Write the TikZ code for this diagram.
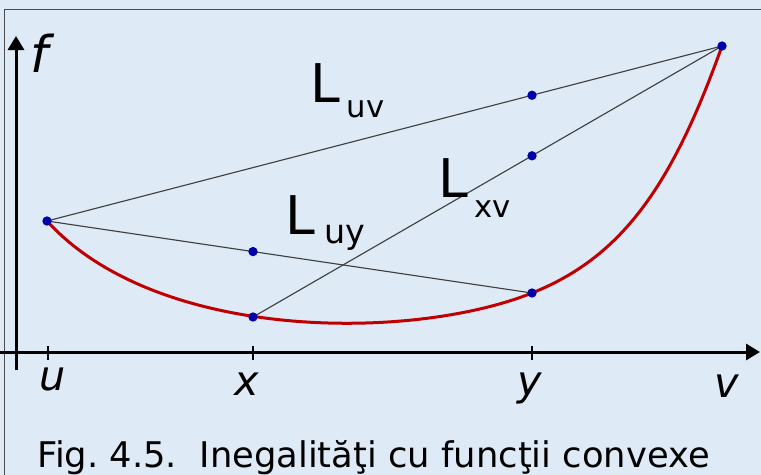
\documentclass[tikz,border=0pt]{standalone}
\usepackage{fontspec}
\setmainfont{DejaVu Sans}
\usetikzlibrary{arrows.meta,backgrounds}
\definecolor{bgblue}{RGB}{222,234,246}
\definecolor{curvered}{RGB}{192,0,0}
\definecolor{dotblue}{RGB}{0,0,170}
\newcommand{\Lbl}[4]{{\fontsize{40}{40}\selectfont L}\kern#1\raisebox{-#2}{\fontsize{#3}{#3}\selectfont #4}}
\begin{document}
\begin{tikzpicture}[x=0.75pt,y=-0.75pt,
    dot/.style={circle,fill=dotblue,inner sep=0pt,minimum size=7pt},
    chord/.style={black!75,line width=0.85pt},
    curve/.style={curvered,line width=2.25pt},
    axis/.style={line width=2.25pt,-{Triangle[width=12pt,length=10.5pt]}},
    axlbl/.style={font=\fontsize{31}{31}\selectfont\itshape,anchor=base,inner sep=0pt},
    lbl/.style={anchor=base west,inner sep=0pt}]
  \useasboundingbox (0,0) rectangle (761,475);

  % Frame
  \draw[black!70,line width=0.75pt] (4,490) |- (780,9);

  % Axes and ticks
  \draw[axis] (0,352) -- (760,352);
  \draw[axis] (16,370) -- (16,36);
  \foreach \t/\n in {48/tu,253/tx,532/ty} {
    \coordinate (\n) at (\t,352);
    \draw[line width=0.9pt] (\t,346) -- (\t,360);
  }

  % Points on the curve and on the chords
  \coordinate (u) at (47,221);
  \coordinate (x) at (253,317);
  \coordinate (y) at (532,293);
  \coordinate (v) at (722,46);
  \coordinate (uv) at (intersection of u--v and y--ty);
  \coordinate (xv) at (intersection of x--v and y--ty);
  \coordinate (uy) at (intersection of u--y and x--tx);

  % Draw nodes
  \foreach \p/\n in {u/U,x/X,y/Y,v/V,uv/UV,xv/XV,uy/UY} \node[dot] (\n) at (\p) {};

  % Curve and chords
  \begin{scope}[on background layer]
    \fill[bgblue] (0,0) rectangle (761,475);
    \draw[curve] (U.center) .. controls (157,342) and (412,341) .. (Y.center)
                            .. controls (622,257) and (672,186) .. (V.center);
    \draw[chord] (U.center) -- (V.center);
    \draw[chord] (U.center) -- (Y.center);
    \draw[chord] (X.center) -- (V.center);
  \end{scope}

  % Labels
  \node[lbl] (Luv) at (310,102) {\Lbl{5pt}{11.25pt}{23}{uv}};
  \node[lbl] (Lxv) at (438,197) {\Lbl{5pt}{15pt}{23}{xv}};
  \node[lbl] (Luy) at (285,234) {\Lbl{7pt}{6.75pt}{25}{uy}};
  \node[axlbl,font=\fontsize{38}{38}\selectfont\itshape] (lf) at (39,72) {f};
  \node[axlbl] (lu) at (53,390) {u};
  \node[axlbl] (lx) at (247,395) {x};
  \node[axlbl] (ly) at (530,395) {y};
  \node[axlbl] (lv) at (727,397) {v};
  \node[anchor=base,inner sep=0pt,font=\fontsize{26.5}{26.5}\selectfont\frenchspacing] (cap) at (373.5,467) {Fig. 4.5.\ \ Inegalităţi cu funcţii convexe};
\end{tikzpicture}
\end{document}
